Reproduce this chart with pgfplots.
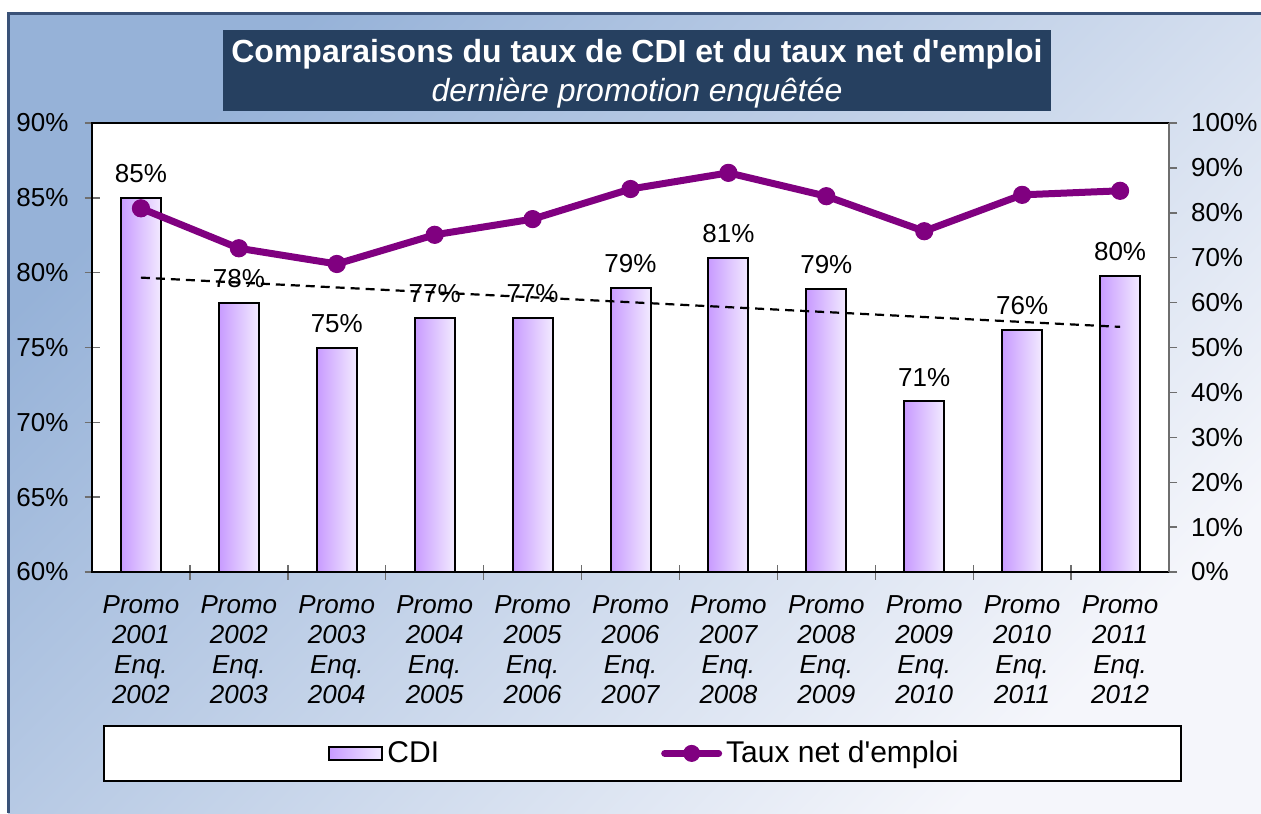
\documentclass[border=0pt]{standalone}
\usepackage{pgfplots}
\pgfplotsset{compat=1.18}
\usepackage{fontspec}
\setmainfont{Liberation Sans}[Ligatures=TeXOff]

\definecolor{bgdark}{RGB}{150,178,216}
\definecolor{bglight}{RGB}{245,246,251}
\definecolor{framecol}{RGB}{58,82,120}
\definecolor{titlebg}{RGB}{38,64,96}
\definecolor{barL}{RGB}{200,155,255}
\definecolor{barR}{RGB}{242,234,255}
\definecolor{lineP}{RGB}{128,0,128}
\definecolor{tickgray}{RGB}{110,110,110}

\pgfplotsset{
  barleg/.style={legend image code/.code={\draw[##1, line width=1pt] (0pt,-3.25pt) rectangle (26.5pt,3.25pt);}},
  lineleg/.style={legend image code/.code={\draw[mark repeat=2, mark phase=2, ##1] plot coordinates {(0pt,0pt) (13.5pt,0pt) (27pt,0pt)};}},
  cdi/.style={ybar, bar width=20pt, draw=black, line width=1pt,
    left color=barL, right color=barR,
    nodes near coords={\pgfmathprintnumber[fixed,precision=0]{\pgfplotspointmeta}\%},
    every node near coord/.append style={black, yshift=3.7pt, font=\fontsize{13}{15}\selectfont},
    barleg},
}

\begin{document}
\begin{tikzpicture}
\useasboundingbox (0,0) rectangle (630.5pt,-406.5pt);
\fill[white] (0,0) rectangle (630.5pt,-406.5pt);
\shade[top color=bgdark, bottom color=bglight, shading angle=45] (4pt,-6.5pt) rectangle (630.5pt,-406.5pt);
\draw[framecol, line width=1.3pt] (4.25pt,-406.5pt) -- (4.25pt,-6.75pt) -- (630.5pt,-6.75pt);

% title box
\fill[titlebg] (111.5pt,-15pt) rectangle (525.5pt,-55.5pt);
\node[white, anchor=base, inner sep=0pt, font=\fontsize{16}{18}\selectfont\bfseries] at (318.5pt,-31.5pt) {Comparaisons du taux de CDI et du taux net d'emploi};
\node[white, anchor=base, inner sep=0pt, font=\fontsize{16}{18}\selectfont\itshape] at (318.5pt,-50.5pt) {dernière promotion enquêtée};

% legend frame
\draw[black, line width=0.8pt, fill=white] (52pt,-363pt) rectangle (590.5pt,-390.5pt);

\begin{axis}[
  at={(46pt,-286pt)}, anchor=south west,
  scale only axis, width=538.5pt, height=224.5pt,
  xmin=-0.5, xmax=10.5, ymin=60, ymax=90,
  axis background/.style={fill=white},
  axis line style={black, line width=1pt},
  /pgf/number format/assume math mode=true,
  tick label style={font=\fontsize{13}{15}\selectfont},
  xtick={0,...,10},
  xticklabels={{Promo\\2001\\Enq.\\2002},{Promo\\2002\\Enq.\\2003},{Promo\\2003\\Enq.\\2004},
    {Promo\\2004\\Enq.\\2005},{Promo\\2005\\Enq.\\2006},{Promo\\2006\\Enq.\\2007},
    {Promo\\2007\\Enq.\\2008},{Promo\\2008\\Enq.\\2009},{Promo\\2009\\Enq.\\2010},
    {Promo\\2010\\Enq.\\2011},{Promo\\2011\\Enq.\\2012}},
  xticklabel style={font=\fontsize{13}{15}\selectfont\itshape, align=center, yshift=-4.5pt},
  yticklabel style={xshift=-4.5pt},
  major x tick style={draw=none},
  minor xtick={0.5,1.5,...,9.5},
  ytick={60,65,...,90},
  yticklabel={\pgfmathprintnumber{\tick}\%},
  ytick pos=left, xtick pos=bottom,
  tick align=center,
  major tick length=7.5pt, minor tick length=7.5pt,
  tick style={tickgray, line width=0.7pt},
  legend columns=2,
  legend style={at={(0.514,-0.404)}, anchor=center, draw=none, fill=none,
    font=\fontsize{15}{17}\selectfont,
    /tikz/every even column/.append style={column sep=109pt}},
]
\addplot[cdi] coordinates {(0,85)};
\addlegendentry{CDI}
\addplot[cdi, forget plot] coordinates {(1,78)};
\addplot[cdi, forget plot] coordinates {(2,75)};
\addplot[cdi, forget plot] coordinates {(3,77)};
\addplot[cdi, forget plot] coordinates {(4,77)};
\addplot[cdi, forget plot] coordinates {(5,79)};
\addplot[cdi, forget plot] coordinates {(6,81)};
\addplot[cdi, forget plot] coordinates {(7,78.9)};
\addplot[cdi, forget plot] coordinates {(8,71.4)};
\addplot[cdi, forget plot] coordinates {(9,76.2)};
\addplot[cdi, forget plot] coordinates {(10,79.8)};
\addplot[black, line width=1.1pt, dash pattern=on 4.5pt off 3pt, forget plot]
  coordinates {(0,79.67) (10,76.38)};
\addlegendimage{lineP, line width=3.5pt, line cap=round, mark=*, mark size=4pt, mark options={line width=0.5pt}, lineleg}
\addlegendentry{Taux net d'emploi}
\end{axis}

\begin{axis}[
  at={(46pt,-286pt)}, anchor=south west,
  scale only axis, width=538.5pt, height=224.5pt,
  xmin=-0.5, xmax=10.5, ymin=0, ymax=100,
  axis x line=none, axis y line*=right,
  y axis line style={tickgray, line width=1pt},
  /pgf/number format/assume math mode=true,
  tick label style={font=\fontsize{13}{15}\selectfont},
  yticklabel style={xshift=3.5pt},
  ytick={0,10,...,100},
  yticklabel={\pgfmathprintnumber{\tick}\%},
  tick align=outside, major tick length=4pt,
  tick style={tickgray, line width=0.7pt},
]
\addplot[lineP, line width=3.5pt, line join=round, mark=*, mark size=4.3pt, mark options={line width=0.5pt}]
  coordinates {(0,81.0) (1,72.1) (2,68.6) (3,75.1) (4,78.6) (5,85.3) (6,88.9) (7,83.7) (8,75.9) (9,84.0) (10,84.9)};
\end{axis}
\end{tikzpicture}
\end{document}
